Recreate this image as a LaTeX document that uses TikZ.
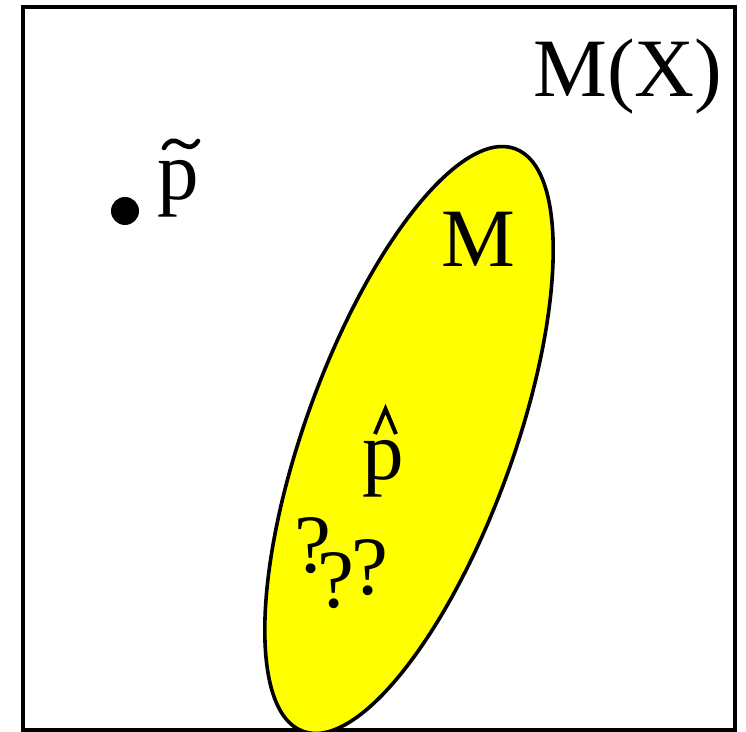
\documentclass[tikz,border=0pt]{standalone}
\usepackage{fontspec}
\setmainfont{Liberation Serif}
\newfontfamily\timesfont{Liberation Serif}
\usetikzlibrary{shapes.geometric}
\definecolor{pureyellow}{RGB}{255,255,0}
\tikzset{
  lbl/.style={inner sep=0pt, anchor=base west, font=\timesfont\fontsize{41.5}{50}\selectfont},
  region/.style={ellipse, draw=black, line width=1.8pt, fill=pureyellow, inner sep=0pt},
  accentline/.style={line width=2.3pt, line cap=round, line join=miter}
}
\begin{document}
\begin{tikzpicture}[x=0.5pt, y=-0.5pt]
\useasboundingbox (0,0) rectangle (746,732);
\draw[line width=2pt] (23,7) rectangle (735,730);
\node[region, minimum width=310pt, minimum height=104pt, rotate=70] (ell) at (409,440) {};
\node[lbl] (mx) at (533,97) {M(X)};
\node[lbl] (m) at (441,267) {M};
\fill (125,211) circle (14) coordinate (dot);
\node[lbl] (pt) at (157,200) {p};
\draw[accentline] (164,148) .. controls (168,140) and (174,139) .. (180,143)
  .. controls (186,147) and (192,150) .. (198,141);
\node[lbl] (ph) at (362,480) {p};
\draw[accentline, line width=2pt, line cap=butt] (375,434) -- (385.5,409) -- (396,434);
\node[lbl] (q1) at (294,573) {?};
\node[lbl] (q2) at (317,608) {?};
\node[lbl] (q3) at (351,595) {?};
\end{tikzpicture}
\end{document}
